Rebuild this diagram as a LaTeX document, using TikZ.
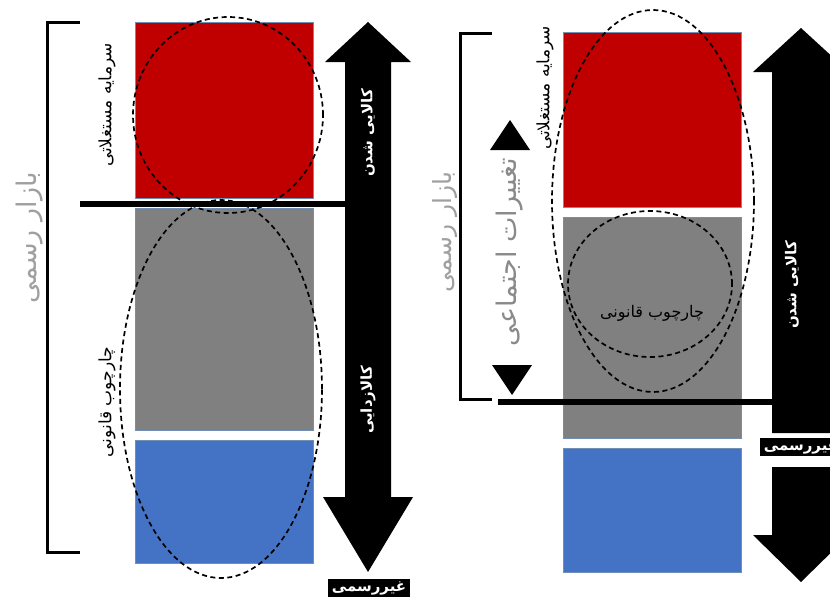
\documentclass[tikz,border=0pt]{standalone}
\usepackage{fontspec}
\newfontfamily\fa[Script=Arabic]{DejaVu Sans}
\TeXXeTstate=1
\newcommand{\fat}[1]{{\fa\beginR #1\endR}}
\definecolor{boxred}{HTML}{C00000}
\definecolor{boxgray}{HTML}{808080}
\definecolor{boxblue}{HTML}{4472C4}
\definecolor{boxedge}{HTML}{6F8FB5}
\definecolor{lightlabel}{HTML}{A0A0A0}
\definecolor{midlabel}{HTML}{8A8A8A}
\tikzset{
  block/.style={draw=boxedge, line width=0.8pt, minimum width=178pt, inner sep=0pt},
  oval/.style={draw=black, line width=1.7pt, dash pattern=on 5pt off 3.5pt},
  bracket/.style={draw=black, line width=3pt},
  divider/.style={draw=black, line width=6pt},
  vlabel/.style={rotate=90, inner sep=0pt, font=\fontsize{17}{19}\selectfont},
  biglabel/.style={rotate=90, inner sep=0pt, font=\fontsize{27}{29}\selectfont},
  shaftlabel/.style={rotate=90, inner sep=0pt, text=white, font=\fontsize{15}{17}\selectfont\bfseries},
  tag/.style={fill=black, text=white, inner xsep=4pt, inner ysep=2pt, font=\fontsize{15}{17}\selectfont\bfseries}
}
\begin{document}
\begin{tikzpicture}[x=1pt, y=-1pt]
\useasboundingbox (0,0) rectangle (830,597);
\clip (0,0) rectangle (830,597);

% ---------- left panel ----------
\node[block, fill=boxred,  minimum height=176pt] (lred)  at (224,110) {};
\node[block, fill=boxgray, minimum height=222pt] (lgray) at (224,319) {};
\node[block, fill=boxblue, minimum height=123pt] (lblue) at (224,501.5) {};

% double arrow
\fill[black] (368,22) -- (411,62) -- (391,62) -- (391,497) -- (413,497) -- (368,572)
  -- (323,497) -- (345,497) -- (345,62) -- (325,62) -- cycle;
\coordinate (lshaft) at (345,204);
\coordinate (lcut) at (80,204);
\draw[divider] (lcut) -- (lshaft);

% bracket
\coordinate (lbt) at (80,22);
\coordinate (lbb) at (80,552);
\draw[bracket] (lbt) -- (47,22) -- (47,552) -- (lbb);

\draw[oval] (228,115) ellipse [x radius=95pt, y radius=98pt];
\draw[oval] (221,389) ellipse [x radius=101pt, y radius=189pt];

\node[biglabel, text=lightlabel] (lmarket) at (30,238) {\fat{بازار رسمی}};
\node[vlabel] (lcapital) at (107,105) {\fat{سرمایه مستغلاتی}};
\node[vlabel] (llegal) at (107,402) {\fat{چارچوب قانونی}};
\node[shaftlabel] (lcommod) at (368,133) {\fat{کالایی شدن}};
\node[shaftlabel] (ldecommod) at (368,400) {\fat{کالازدایی}};
\node[tag] (linformal) at (369,588) {\fat{غیررسمی}};

% ---------- right panel ----------
\node[block, fill=boxred,  minimum height=175pt] (rred)  at (652,119.5) {};
\node[block, fill=boxgray, minimum height=221pt] (rgray) at (652,327.5) {};
\node[block, fill=boxblue, minimum height=124pt] (rblue) at (652,510) {};

% split arrow
\fill[black] (801,28) -- (849,72) -- (830,72) -- (830,433) -- (772,433) -- (772,72)
  -- (753,72) -- cycle;
\fill[black] (772,467) -- (830,467) -- (830,535) -- (849,535) -- (801,582)
  -- (753,535) -- (772,535) -- cycle;
\coordinate (rshaft) at (773,402);
\coordinate (rcut) at (498,402);
\draw[divider] (rcut) -- (rshaft);

% bracket
\coordinate (rbt) at (492,33);
\coordinate (rbb) at (492,399);
\draw[bracket] (rbt) -- (460,33) -- (460,399) -- (rbb);

% change markers
\fill[black] (490,150) -- (530,150) -- (510,120) -- cycle;
\fill[black] (492,365) -- (532,365) -- (512,395) -- cycle;

\draw[oval] (653,201) ellipse [x radius=101pt, y radius=191pt];
\draw[oval] (650,284) ellipse [x radius=82pt, y radius=73pt];

\node[biglabel, text=lightlabel, font=\fontsize{25}{27}\selectfont] (rmarket) at (445,232) {\fat{بازار رسمی}};
\node[biglabel, text=midlabel, font=\fontsize{27}{29}\selectfont] (rsocial) at (510,252) {\fat{تغییرات اجتماعی}};
\node[vlabel] (rcapital) at (545,88) {\fat{سرمایه مستغلاتی}};
\node[inner sep=0pt, font=\fontsize{16}{18}\selectfont] (rlegal) at (652,313) {\fat{چارچوب قانونی}};
\node[shaftlabel] (rcommod) at (792,285) {\fat{کالایی شدن}};
\node[tag] (rinformal) at (801,447) {\fat{غیررسمی}};
\end{tikzpicture}
\end{document}
